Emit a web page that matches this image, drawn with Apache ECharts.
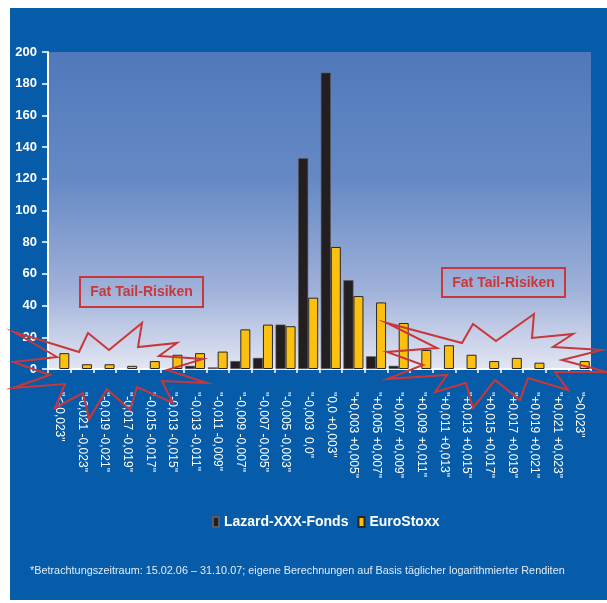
<!DOCTYPE html>
<html>
<head>
<meta charset="utf-8">
<script src="https://cdn.jsdelivr.net/npm/echarts@6/dist/echarts.min.js"></script>
<style>
  html, body { margin: 0; padding: 0; background: #ffffff; }
  #bg { position: absolute; left: 10px; top: 8px; width: 597px; height: 592px; background: #065ca9; }
  #chart { position: absolute; left: 0; top: 0; width: 607px; height: 603px; }
</style>
</head>
<body>
<div id="bg"></div>
<div id="chart"></div>
<script>
// ---- data ----
const categories = ['"<-0,023"', '"-0,021 -0,023"', '"-0,019 -0,021"', '"-0,017 -0,019"', '"-0,015 -0,017"',
  '"-0,013 -0,015"', '"-0,013 -0,011"', '"-0,011 -0,009"', '"-0,009 -0,007"', '"-0,007 -0,005"',
  '"-0,005 -0,003"', '"-0,003  0,0"', '"0,0 +0,003"', '"+0,003 +0,005"', '"+0,005 +0,007"',
  '"+0,007 +0,009"', '"+0,009 +0,011"', '"+0,011 +0,013"', '"+0,013 +0,015"', '"+0,015 +0,017"',
  '"+0,017 +0,019"', '"+0,019 +0,021"', '"+0,021 +0,023"', '">0,023"'];
const lazardValues = [0, 0, 0, 0, 0, 0, 2, 1, 5, 7, 28, 133, 187, 56, 8, 2, 0, 0, 0, 0, 0, 0, 0, 0];
const euroStoxxValues = [10, 3, 3, 2, 5, 9, 10, 11, 25, 28, 27, 45, 77, 46, 42, 29, 12, 15, 9, 5, 7, 4, 0, 5];
const seriesNames = ['Lazard-XXX-Fonds', 'EuroStoxx'];
const yTicks = { min: 0, max: 200, interval: 20 };
const annotationText = 'Fat Tail-Risiken';
const footnote = '*Betrachtungszeitraum: 15.02.06 \u2013 31.10.07; eigene Berechnungen auf Basis t\u00e4glicher logarithmierter Renditen';

const FONT = '"Liberation Sans", Arial, sans-serif';
const RED = '#c8373a';
const nz = v => (v === 0 ? null : v);

const leftStar = [[14,332],[79,352],[88,333],[109,350],[142,323],[138,347],[177,343],[159,356],[203,359],
  [167,370],[207,383],[162,381],[173,403],[137,387],[130,410],[107,389],[89,419],[83,393],[55,408],
  [65,384],[13,388],[50,375],[13,362],[57,357]];
const rightStar = [[387,323],[462,343],[473,324],[496,341],[534,314],[532,338],[573,334],[553,347],[602,350],
  [562,360],[607,372],[555,372],[568,390],[528,378],[520,400],[495,380],[473,408],[466,383],[435,392],
  [447,375],[387,379],[423,365],[387,352],[437,348]];

const chart = echarts.init(document.getElementById('chart'));
chart.setOption({
  backgroundColor: 'transparent',
  animation: false,
  textStyle: { fontFamily: FONT },
  grid: {
    left: 48, right: 16, top: 52, bottom: 234,
    show: true, borderWidth: 0,
    backgroundColor: new echarts.graphic.LinearGradient(0, 0, 0, 1, [
      { offset: 0, color: '#5079bb' },
      { offset: 0.4, color: '#6589c5' },
      { offset: 0.75, color: '#9fb1d9' },
      { offset: 1, color: '#e3e6f3' }
    ])
  },
  legend: {
    data: seriesNames,
    left: 212, top: 515, padding: 0,
    itemWidth: 6, itemHeight: 10, itemGap: 9,
    icon: 'rect',
    textStyle: { color: '#ffffff', fontWeight: 'bold', fontSize: 14, fontFamily: FONT }
  },
  xAxis: {
    type: 'category',
    data: categories,
    axisLine: { lineStyle: { color: '#ffffff', width: 2 } },
    axisTick: { show: true, length: 4, lineStyle: { color: '#ffffff', width: 1.5 } },
    axisLabel: { interval: 0, rotate: -90, margin: 23, color: '#ffffff', fontSize: 12, fontFamily: FONT },
    splitLine: { show: false }
  },
  yAxis: {
    type: 'value',
    min: yTicks.min, max: yTicks.max, interval: yTicks.interval,
    axisLine: { show: true, lineStyle: { color: '#ffffff', width: 2 } },
    axisTick: { show: true, length: 6, lineStyle: { color: '#ffffff', width: 1.5 } },
    axisLabel: { margin: 11, color: '#ffffff', fontSize: 13, fontWeight: 'bold', fontFamily: FONT },
    splitLine: { show: false }
  },
  series: [
    {
      name: seriesNames[0], type: 'bar', data: lazardValues.map(nz),
      barWidth: 10, barGap: '0%',
      itemStyle: { color: '#231f20', borderColor: '#5a5a60', borderWidth: 0.6 }
    },
    {
      name: seriesNames[1], type: 'bar', data: euroStoxxValues.map(nz),
      barWidth: 10, barGap: '0%',
      itemStyle: { color: '#fcc011', borderColor: '#2a2626', borderWidth: 1 }
    }
  ],
  graphic: [
    { type: 'polygon', z: 100, shape: { points: leftStar }, style: { fill: null, stroke: RED, lineWidth: 2, lineJoin: 'miter' } },
    { type: 'polygon', z: 100, shape: { points: rightStar }, style: { fill: null, stroke: RED, lineWidth: 2, lineJoin: 'miter' } },
    { type: 'rect', z: 100, shape: { x: 80, y: 277, width: 123, height: 30 }, style: { fill: null, stroke: RED, lineWidth: 2 } },
    { type: 'text', z: 101, x: 141.5, y: 292, style: { text: annotationText, fill: RED, font: 'bold 14px ' + FONT, align: 'center', verticalAlign: 'middle' } },
    { type: 'rect', z: 100, shape: { x: 442, y: 268, width: 123, height: 29 }, style: { fill: null, stroke: RED, lineWidth: 2 } },
    { type: 'text', z: 101, x: 503.5, y: 283, style: { text: annotationText, fill: RED, font: 'bold 14px ' + FONT, align: 'center', verticalAlign: 'middle' } },
    { type: 'text', z: 101, x: 30, y: 571, style: { text: footnote, fill: '#e4ebf6', font: '10.85px ' + FONT, align: 'left', verticalAlign: 'middle' } }
  ]
});
</script>
</body>
</html>
